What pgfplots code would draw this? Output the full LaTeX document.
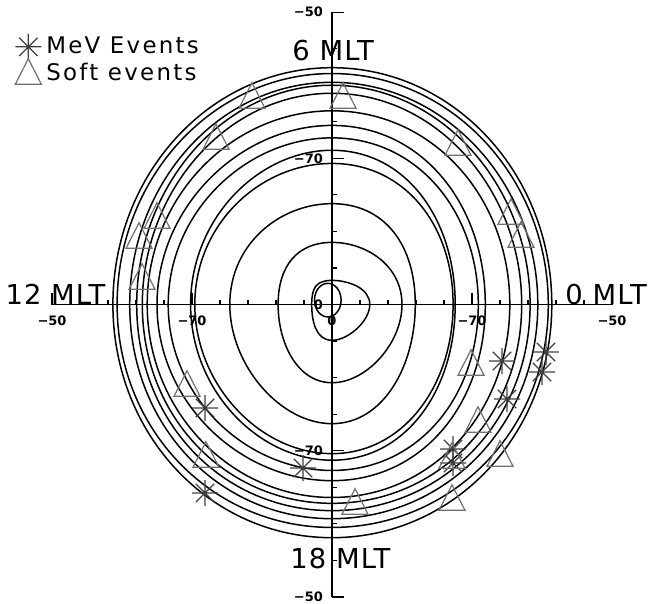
\documentclass[border=0pt]{standalone}
\usepackage{pgfplots}
\pgfplotsset{compat=1.18}
\usepackage{pgfplotstable}
\usepackage{fontspec}
\setmainfont{DejaVu Sans}
\newfontfamily\labfont[LetterSpace=4]{DejaVu Sans}
\newfontfamily\legfont[LetterSpace=10]{DejaVu Sans}

\definecolor{trigray}{HTML}{707070}
\definecolor{astgray}{HTML}{404040}

% 8-arm asterisk used for the MeV events
\pgfdeclareplotmark{ast8}{%
  \pgfpathmoveto{\pgfqpoint{-\pgfplotmarksize}{0pt}}%
  \pgfpathlineto{\pgfqpoint{\pgfplotmarksize}{0pt}}%
  \pgfpathmoveto{\pgfqpoint{0pt}{-\pgfplotmarksize}}%
  \pgfpathlineto{\pgfqpoint{0pt}{\pgfplotmarksize}}%
  \pgfpathmoveto{\pgfqpoint{-0.7071\pgfplotmarksize}{-0.7071\pgfplotmarksize}}%
  \pgfpathlineto{\pgfqpoint{0.7071\pgfplotmarksize}{0.7071\pgfplotmarksize}}%
  \pgfpathmoveto{\pgfqpoint{-0.7071\pgfplotmarksize}{0.7071\pgfplotmarksize}}%
  \pgfpathlineto{\pgfqpoint{0.7071\pgfplotmarksize}{-0.7071\pgfplotmarksize}}%
  \pgfusepathqstroke}
% open triangle, a little taller than equilateral
\pgfdeclareplotmark{tri}{%
  \pgfpathmoveto{\pgfqpoint{0pt}{0.95\pgfplotmarksize}}%
  \pgfpathlineto{\pgfqpoint{-0.866\pgfplotmarksize}{-0.75\pgfplotmarksize}}%
  \pgfpathlineto{\pgfqpoint{0.866\pgfplotmarksize}{-0.75\pgfplotmarksize}}%
  \pgfpathclose
  \pgfusepathqstroke}

% event positions (x = colat*cos, y = colat*sin, degrees)
\pgfplotstableread{
x y
-18.14 -14.16
-18.14 -25.79
-4.14 -22.37
24.29 -7.73
30.57 -6.50
30.00 -9.23
25.00 -12.93
17.29 -19.77
17.29 -21.68
}\mevevents
\pgfplotstableread{
x y
-11.43 28.39
1.57 28.39
-16.57 22.78
18.00 21.96
-25.00 11.97
25.57 12.52
-27.57 9.23
27.00 9.37
-27.14 3.63
-20.71 -11.01
19.86 -8.14
-18.00 -20.72
20.86 -15.94
24.00 -20.59
17.14 -26.61
3.29 -27.15
17.14 -20.86
}\softevents

\begin{document}
\begin{tikzpicture}
\begin{axis}[
  scale only axis,
  x=3.5pt, y=3.655pt,
  xmin=-40, xmax=40, ymin=-40, ymax=40,
  axis lines=middle,
  axis line style={-, line width=0.6pt},
  every inner x axis line/.append style={-},
  every inner y axis line/.append style={-},
  clip=false,
  tick align=inside,
  major tick length=6pt, minor tick length=2.5pt,
  tick style={line width=0.6pt, black},
  hide obscured x ticks=false, hide obscured y ticks=false,
  xtick={-40,-20,0,20,40},
  xticklabels={−50,−70,0,−70,−50},
  minor xtick={-36,-32,-28,-24,-16,-12,-8,-4,4,8,12,16,24,28,32,36},
  ytick={-40,-20,0,20,40},
  yticklabels={−50,−70,0,−70,−50},
  minor ytick={-35,-30,-25,-15,-10,-5,5,10,15,25,30,35},
  xticklabel style={anchor=center, yshift=-8pt, font=\fontsize{6.5}{7}\selectfont\bfseries},
  yticklabel style={anchor=east, xshift=-1pt, font=\fontsize{6.5}{7}\selectfont\bfseries},
  legend style={at={(axis cs:-45.3,37.2)}, anchor=north west, draw=none, fill=none,
    font=\legfont\fontsize{11.45}{12.5}\selectfont, row sep=-1pt,
    inner sep=0pt, column sep=0.5pt},
  legend cell align=left,
  trace/.style={black, line width=0.75pt, smooth cycle, tension=1, forget plot},
]
% traces (right, top, left, bottom crossing in degrees)
\addplot[trace] coordinates {(31.4,0) (0,32.4) (-31.3,0) (0,-31.9)};
\addplot[trace] coordinates {(30.9,0) (0,31.6) (-30.7,0) (0,-30.5)};
\addplot[trace] coordinates {(29.4,0) (0,30.4) (-28.9,0) (0,-29.3)};
\addplot[trace] coordinates {(28.3,0) (0,30.0) (-27.9,0) (0,-28.2)};
\addplot[trace] coordinates {(27.1,0) (0,28.9) (-27.1,0) (0,-27.2)};
\addplot[trace] coordinates {(25.4,0) (0,26.5) (-26.4,0) (0,-26.4)};
\addplot[trace] coordinates {(21.9,0) (0,24.5) (-25.0,0) (0,-24.1)};
\addplot[trace] coordinates {(20.9,0) (0,22.8) (-23.4,0) (0,-22.7)};
\addplot[trace] coordinates {(17.6,0) (0,21.1) (-20.2,0) (0,-21.3)};
\addplot[trace] coordinates {(17.3,0) (0,19.3) (-19.6,0) (0,-20.4)};
\addplot[trace] coordinates {(11.9,0) (0,13.8) (-14.6,0) (0,-16.3)};
\addplot[trace] coordinates {(10.0,0) (0,8.5) (-7.7,0) (0,-10.7)};
\addplot[trace] coordinates {(5.4,0) (0,3.3) (-2.9,0) (0,-4.9)};
\addplot[trace] coordinates {(1.3,0.6) (-0.6,2.9) (-2.5,0.6) (-0.6,-1.7)};

\addplot[only marks, mark=ast8, mark size=6.5pt, astgray, line width=0.6pt] table {\mevevents};
\addlegendentry{MeV Events}
\addplot[only marks, mark=tri, mark size=7.5pt, trigray, line width=0.6pt] table {\softevents};
\addlegendentry{Soft events}

\node[anchor=base west, font=\labfont\fontsize{13.7}{16}\selectfont, inner sep=0pt] at (axis cs:-46.7,0) {12 MLT};
\node[anchor=base west, font=\labfont\fontsize{13.7}{16}\selectfont, inner sep=0pt] at (axis cs:33.29,0) {0 MLT};
\node[anchor=base west, font=\labfont\fontsize{13.7}{16}\selectfont, inner sep=0pt] at (axis cs:-5.71,33.45) {6 MLT};
\node[anchor=base west, font=\labfont\fontsize{13.7}{16}\selectfont, inner sep=0pt] at (axis cs:-6.0,-36.05) {18 MLT};

\coordinate (bbSW) at (axis cs:-47.43,-40.97);
\coordinate (bbNE) at (axis cs:46.0,41.66);
\end{axis}
\pgfresetboundingbox
\useasboundingbox (bbSW) rectangle (bbNE);
\end{tikzpicture}
\end{document}
